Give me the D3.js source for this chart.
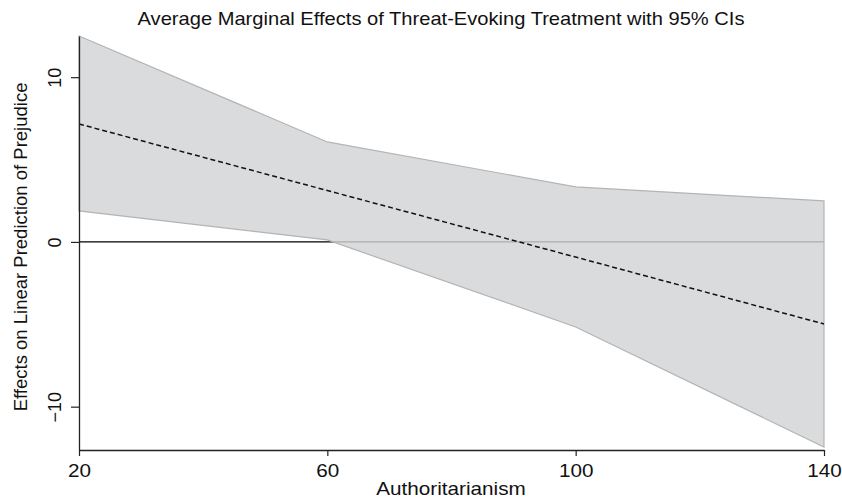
<!DOCTYPE html>
<html>
<head>
<meta charset="utf-8">
<script src="https://cdn.jsdelivr.net/npm/d3@7"></script>
<style>
  body { margin: 0; background: #fff; }
  svg { display: block; }
  text { font-family: "Liberation Sans", Arial, sans-serif; fill: #111; }
</style>
</head>
<body>
<div class="canva"></div>
<script>
// values
const authoritarianism = [20, 60, 100, 140];
const effect = [7.16, 3.12, -0.92, -4.98];
const ciUpper = [12.5, 6.07, 3.34, 2.49];
const ciLower = [1.88, 0.12, -5.16, -12.45];
const xTicks = [20, 60, 100, 140];
const yTicks = [-10, 0, 10];

const WIDTH = 842, HEIGHT = 498;
const MARGIN = { TOP: 36, RIGHT: 18, BOTTOM: 48, LEFT: 79 };
const STRETCH = 1.15; // the reference text is a bit wide

const svg = d3.select(".canva").append("svg")
    .attr("width", WIDTH)
    .attr("height", HEIGHT);

const x = d3.scaleLinear().domain([20, 140]).range([MARGIN.LEFT, 824]);
const y = d3.scaleLinear().domain([-12.63, 12.5]).range([HEIGHT - MARGIN.BOTTOM, MARGIN.TOP]);

const rows = authoritarianism.map((a, i) => ({ a, m: effect[i], hi: ciUpper[i], lo: ciLower[i] }));

// zero reference line (sits under the band)
svg.append("line")
    .attr("x1", x(20)).attr("x2", x(140))
    .attr("y1", y(0)).attr("y2", y(0))
    .attr("stroke", "#000").attr("stroke-width", 1.3);

// confidence band
const area = d3.area()
    .x(d => x(d.a))
    .y0(d => y(d.lo))
    .y1(d => y(d.hi));

svg.append("path")
    .datum(rows)
    .attr("d", area)
    .attr("fill", "rgb(210,211,214)")
    .attr("fill-opacity", 0.82)
    .attr("stroke", "#b4b4b4")
    .attr("stroke-width", 1.2);

// point estimate
svg.append("path")
    .datum(rows)
    .attr("d", d3.line().x(d => x(d.a)).y(d => y(d.m)))
    .attr("fill", "none")
    .attr("stroke", "#111")
    .attr("stroke-width", 1.5)
    .attr("stroke-dasharray", "5,3");

// axes
const xAxis = svg.append("g")
    .attr("transform", `translate(0,${HEIGHT - MARGIN.BOTTOM})`)
    .call(d3.axisBottom(x).tickValues(xTicks).tickSize(6).tickSizeOuter(0).tickFormat(d3.format("d")));

const yAxis = svg.append("g")
    .attr("transform", `translate(${MARGIN.LEFT},0)`)
    .call(d3.axisLeft(y).tickValues(yTicks).tickSize(8).tickSizeOuter(0).tickFormat(d3.format("d")));

[xAxis, yAxis].forEach(g => {
    g.select(".domain").attr("stroke", "#222").attr("stroke-width", 1.3);
    g.selectAll(".tick line").attr("stroke", "#222").attr("stroke-width", 1.2);
    g.selectAll("text").style("font-size", "18px").attr("fill", "#111");
});

xAxis.selectAll(".tick text")
    .attr("y", 0).attr("dy", 0)
    .attr("transform", `translate(0,27) scale(${STRETCH},1)`);

yAxis.selectAll(".tick text")
    .attr("x", 0).attr("dy", 0)
    .attr("text-anchor", "middle")
    .attr("transform", "translate(-18,0) rotate(-90)");

// titles
svg.append("text")
    .attr("transform", `translate(441,25) scale(${STRETCH},1)`)
    .attr("text-anchor", "middle")
    .style("font-size", "17.5px")
    .text("Average Marginal Effects of Threat-Evoking Treatment with 95% CIs");

svg.append("text")
    .attr("transform", `translate(451,495) scale(${STRETCH},1)`)
    .attr("text-anchor", "middle")
    .style("font-size", "18px")
    .text("Authoritarianism");

svg.append("text")
    .attr("transform", `translate(27,${y(0) + 5}) rotate(-90)`)
    .attr("text-anchor", "middle")
    .style("font-size", "18.5px")
    .text("Effects on Linear Prediction of Prejudice");
</script>
</body>
</html>
